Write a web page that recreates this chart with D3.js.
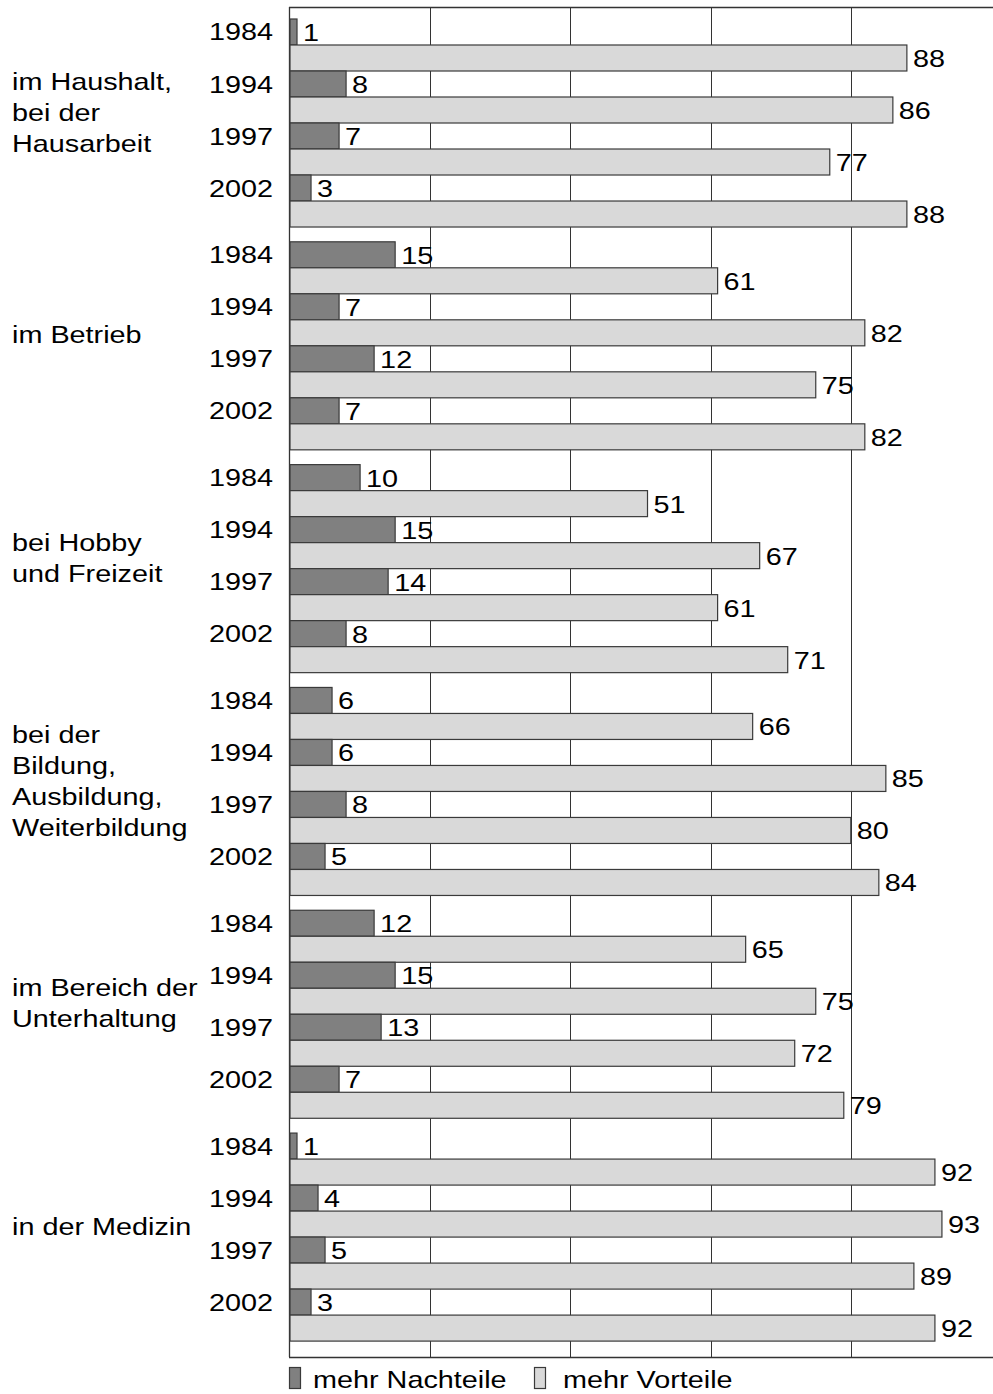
<!DOCTYPE html>
<html>
<head>
<meta charset="utf-8">
<script src="https://cdn.jsdelivr.net/npm/d3@7"></script>
<style>
  html, body { margin: 0; padding: 0; background: #fff; }
  svg { display: block; }
  text { font-family: "Liberation Sans", Arial, sans-serif; font-size: 24px; fill: #000; }
</style>
</head>
<body>
<script>
// ---- data ----
const categories = [
  ["im Haushalt,", "bei der", "Hausarbeit"],
  ["im Betrieb"],
  ["bei Hobby", "und Freizeit"],
  ["bei der", "Bildung,", "Ausbildung,", "Weiterbildung"],
  ["im Bereich der", "Unterhaltung"],
  ["in der Medizin"]
];
const years = ["1984", "1994", "1997", "2002"];
const nachteile = [
  [1, 8, 7, 3],
  [15, 7, 12, 7],
  [10, 15, 14, 8],
  [6, 6, 8, 5],
  [12, 15, 13, 7],
  [1, 4, 5, 3]
];
const vorteile = [
  [88, 86, 77, 88],
  [61, 82, 75, 82],
  [51, 67, 61, 71],
  [66, 85, 80, 84],
  [65, 75, 72, 79],
  [92, 93, 89, 92]
];
const seriesNames = ["mehr Nachteile", "mehr Vorteile"];
const xTicks = [20, 40, 60, 80];

// ---- layout ----
const W = 993, H = 1394;
const plotTop = 7, plotBottom = 1357, plotLeft = 290;
const colors = ["#808080", "#d9d9d9"];
const strokeCol = "#3a3a3a";
const SX = 1.2;

const svg = d3.select("body").append("svg").attr("width", W).attr("height", H);

const x = d3.scaleLinear().domain([0, 100]).range([plotLeft, 991]);
const yG = d3.scaleBand().domain(d3.range(categories.length))
  .range([plotTop, plotBottom]).paddingInner(0.0664).paddingOuter(0.0626).align(0.43);
const yY = d3.scaleBand().domain(years).range([0, yG.bandwidth()]);
const yS = d3.scaleBand().domain([0, 1]).range([0, yY.bandwidth()]);

function txt(g, tx, ty, s, anchor) {
  return g.append("text")
    .attr("transform", `translate(${tx},${ty}) scale(${SX},1)`)
    .attr("text-anchor", anchor || "start")
    .text(s);
}

// gridlines
svg.append("g").selectAll("line").data(xTicks).join("line")
  .attr("x1", d => Math.round(x(d)) + 0.5).attr("x2", d => Math.round(x(d)) + 0.5)
  .attr("y1", plotTop).attr("y2", plotBottom)
  .attr("stroke", "#333").attr("stroke-width", 1);

// frame
svg.append("line").attr("x1", plotLeft - 0.5).attr("x2", plotLeft - 0.5).attr("y1", plotTop).attr("y2", plotBottom)
  .attr("stroke", "#333").attr("stroke-width", 1.3);
svg.append("line").attr("x1", plotLeft - 1).attr("x2", W).attr("y1", plotTop + 0.5).attr("y2", plotTop + 0.5)
  .attr("stroke", "#333").attr("stroke-width", 1.3);
svg.append("line").attr("x1", plotLeft - 1).attr("x2", W).attr("y1", plotBottom + 0.5).attr("y2", plotBottom + 0.5)
  .attr("stroke", "#333").attr("stroke-width", 1.3);

// bars
categories.forEach((cat, gi) => {
  const g = svg.append("g").attr("transform", `translate(0,${yG(gi)})`);
  years.forEach((yr, yi) => {
    const vals = [nachteile[gi][yi], vorteile[gi][yi]];
    vals.forEach((v, si) => {
      const yy = yY(yr) + yS(si);
      g.append("rect")
        .attr("x", x(0)).attr("y", yy)
        .attr("width", x(v) - x(0)).attr("height", yS.bandwidth())
        .attr("fill", colors[si]).attr("stroke", strokeCol).attr("stroke-width", 1.2);
    });
  });
  years.forEach((yr, yi) => {
    const vals = [nachteile[gi][yi], vorteile[gi][yi]];
    vals.forEach((v, si) => {
      const cy = yY(yr) + yS(si) + yS.bandwidth() / 2;
      txt(g, x(v) + 6, cy + 9, String(v));
    });
    txt(g, 273, yY(yr) + yS(0) + yS.bandwidth() / 2 + 8.5, yr, "end");
  });
  const lh = 31;
  const cy = yG.bandwidth() / 2 - 11;
  cat.forEach((line, li) => {
    txt(g, 12, cy + (li - (cat.length - 1) / 2) * lh + 8.6, line);
  });
});

// legend
const legX = [289.5, 534.5], legTX = [313, 563];
seriesNames.forEach((n, i) => {
  svg.append("rect").attr("x", legX[i]).attr("y", 1367.5).attr("width", 11).attr("height", 21)
    .attr("fill", colors[i]).attr("stroke", strokeCol).attr("stroke-width", 1.2);
  txt(svg, legTX[i], 1388, n);
});
</script>
</body>
</html>
